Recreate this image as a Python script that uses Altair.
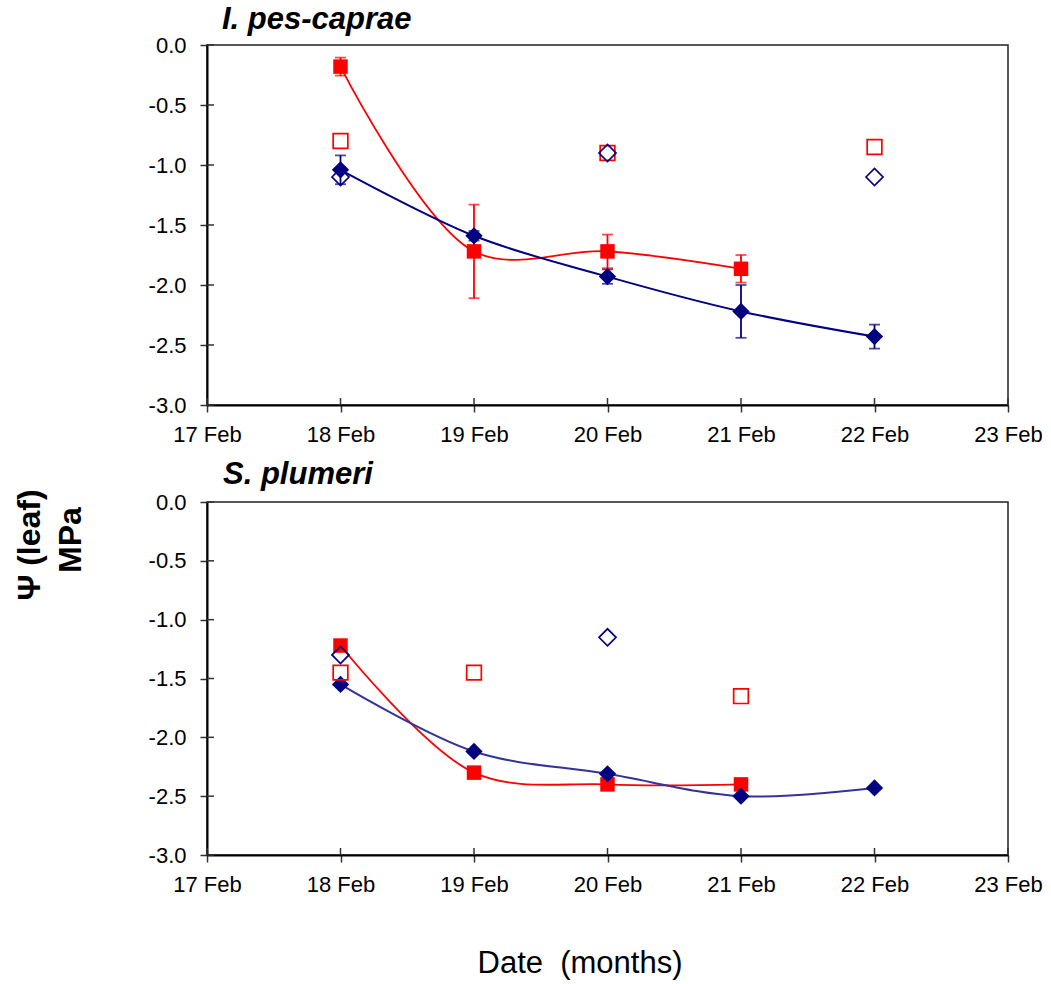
import altair as alt
import pandas as pd

# ---------------- data ----------------
X_TICKS = [17, 18, 19, 20, 21, 22, 23]
X_TICK_LABELS = ["17 Feb", "18 Feb", "19 Feb", "20 Feb", "21 Feb", "22 Feb", "23 Feb"]
Y_TICKS = [0.0, -0.5, -1.0, -1.5, -2.0, -2.5, -3.0]

# I. pes-caprae
top_blue_days = [18, 19, 20, 21, 22]
top_blue_mean = [-1.04, -1.59, -1.93, -2.22, -2.43]
top_blue_err = [0.12, 0.04, 0.06, 0.22, 0.10]
top_red_days = [18, 19, 20, 21]
top_red_mean = [-0.18, -1.72, -1.72, -1.865]
top_red_err = [0.075, 0.39, 0.14, 0.115]
top_hred_days = [18, 20, 22]
top_hred_vals = [-0.80, -0.90, -0.85]
top_hblue_days = [18, 20, 22]
top_hblue_vals = [-1.10, -0.90, -1.10]

# S. plumeri
bot_blue_days = [18, 19, 20, 21, 22]
bot_blue_mean = [-1.55, -2.12, -2.31, -2.50, -2.43]
bot_red_days = [18, 19, 20, 21]
bot_red_mean = [-1.22, -2.30, -2.40, -2.40]
bot_hred_days = [18, 19, 21]
bot_hred_vals = [-1.45, -1.45, -1.65]
bot_hblue_days = [18, 20]
bot_hblue_vals = [-1.30, -1.15]

RED = "#FF0000"
NAVY = "#000080"
FONT = "Liberation Sans"

label_list = "[" + ",".join("'%s'" % s for s in X_TICK_LABELS) + "]"
X_LABEL_EXPR = label_list + "[datum.value - 17]"
Y_LABEL_EXPR = "replace(format(datum.value, '.1f'), '\u2212', '-')"


def make_panel(title, w, h, blue_days, blue_mean, blue_err, red_days, red_mean, red_err,
               hred_days, hred_vals, hblue_days, hblue_vals, blue_line_color,
               title_x, title_y, extra=None):
    xs = alt.Scale(domain=[17, 23], nice=False, zero=False)
    ys = alt.Scale(domain=[-3, 0], nice=False, zero=False)
    xaxis = alt.Axis(values=X_TICKS, labelExpr=X_LABEL_EXPR, title=None, grid=False,
                     tickSize=7, tickWidth=1.5, tickColor="#333333", domainColor="black",
                     domainWidth=2, labelFontSize=22, labelPadding=12, labelColor="black",
                     labelFont=FONT, labelFlush=False)
    yaxis = alt.Axis(values=Y_TICKS, labelExpr=Y_LABEL_EXPR, title=None, grid=False,
                     tickSize=7, tickWidth=1.5, tickColor="#333333", domainColor="black",
                     domainWidth=2, labelFontSize=22, labelPadding=14, labelColor="black",
                     labelFont=FONT)
    X = alt.X("day:Q", scale=xs, axis=xaxis)
    Y = alt.Y("v:Q", scale=ys, axis=yaxis)

    blue = pd.DataFrame({"day": blue_days, "v": blue_mean})
    red = pd.DataFrame({"day": red_days, "v": red_mean})
    hred = pd.DataFrame({"day": hred_days, "v": hred_vals})
    hblue = pd.DataFrame({"day": hblue_days, "v": hblue_vals})

    layers = []
    # inner half of cross ticks
    yt = pd.DataFrame({"v": Y_TICKS})
    layers.append(alt.Chart(yt).mark_rule(color="#333333", strokeWidth=1.5).encode(
        y=Y, x=alt.value(0), x2=alt.value(7)))
    xt = pd.DataFrame({"day": X_TICKS})
    layers.append(alt.Chart(xt).mark_rule(color="#333333", strokeWidth=1.5).encode(
        x=X, y=alt.value(h - 7), y2=alt.value(h)))

    layers.append(alt.Chart(red).mark_line(color=RED, strokeWidth=1.8,
                                           interpolate="catmull-rom").encode(x=X, y=Y))
    layers.append(alt.Chart(blue).mark_line(color=blue_line_color, strokeWidth=2,
                                            interpolate="catmull-rom").encode(x=X, y=Y))

    for df, err, col in ((blue, blue_err, NAVY), (red, red_err, RED)):
        if err is None:
            continue
        e = df.copy()
        e["lo"] = [m - s for m, s in zip(e["v"], err)]
        e["hi"] = [m + s for m, s in zip(e["v"], err)]
        layers.append(alt.Chart(e).mark_rule(color=col, strokeWidth=1.8).encode(
            x=X, y=alt.Y("lo:Q", scale=ys, axis=yaxis), y2="hi:Q"))
        layers.append(alt.Chart(e).mark_tick(color=col, thickness=1.8, size=11,
                                             orient="horizontal").encode(
            x=X, y=alt.Y("lo:Q", scale=ys, axis=yaxis)))
        layers.append(alt.Chart(e).mark_tick(color=col, thickness=1.8, size=11,
                                             orient="horizontal").encode(
            x=X, y=alt.Y("hi:Q", scale=ys, axis=yaxis)))

    layers.append(alt.Chart(red).mark_point(shape="square", filled=True, size=210,
                                            color=RED, opacity=1).encode(x=X, y=Y))
    layers.append(alt.Chart(blue).mark_point(shape="diamond", filled=True, size=300,
                                             color=NAVY, opacity=1).encode(x=X, y=Y))
    layers.append(alt.Chart(hred).mark_point(shape="square", filled=False, size=215,
                                             color=RED, strokeWidth=1.7, opacity=1).encode(x=X, y=Y))
    layers.append(alt.Chart(hblue).mark_point(shape="diamond", filled=False, size=290,
                                              color=NAVY, strokeWidth=1.7, opacity=1).encode(x=X, y=Y))

    tdf = pd.DataFrame({"t": [title]})
    layers.append(alt.Chart(tdf).mark_text(font=FONT, fontSize=31, fontWeight="bold",
                                           fontStyle="italic", align="left",
                                           baseline="middle", color="black").encode(
        text="t:N", x=alt.value(title_x), y=alt.value(title_y)))
    if extra:
        layers.extend(extra)
    return alt.layer(*layers).properties(width=w, height=h)


top = make_panel("I. pes-caprae", 801, 360, top_blue_days, top_blue_mean, top_blue_err,
                 top_red_days, top_red_mean, top_red_err, top_hred_days, top_hred_vals,
                 top_hblue_days, top_hblue_vals, NAVY, 15, -25)

ylab1 = alt.Chart(pd.DataFrame({"t": ["\u03a8 (leaf)"]})).mark_text(
    font=FONT, fontSize=32, fontWeight="bold", angle=270, align="center",
    baseline="middle", color="black").encode(text="t:N", x=alt.value(-177), y=alt.value(43))
ylab2 = alt.Chart(pd.DataFrame({"t": ["MPa"]})).mark_text(
    font=FONT, fontSize=32, fontWeight="bold", angle=270, align="center",
    baseline="middle", color="black").encode(text="t:N", x=alt.value(-136), y=alt.value(38))
xlab = alt.Chart(pd.DataFrame({"t": ["Date \u00a0(months)"]})).mark_text(
    font=FONT, fontSize=31, align="center", baseline="middle", color="black").encode(
    text="t:N", x=alt.value(373), y=alt.value(462))

bottom = make_panel("S. plumeri", 801, 353, bot_blue_days, bot_blue_mean, None,
                    bot_red_days, bot_red_mean, None, bot_hred_days, bot_hred_vals,
                    bot_hblue_days, bot_hblue_vals, "#333399", 16, -27,
                    extra=[ylab1, ylab2, xlab])

chart = alt.vconcat(top, bottom, spacing=12).properties(
    padding={"left": 13, "top": 3, "right": 5, "bottom": 0},
    background="white",
).configure_view(stroke="#222222", strokeWidth=1.5).configure_axis(labelFont=FONT)

chart.save("out.html", embed_options={"renderer": "svg", "actions": False})
